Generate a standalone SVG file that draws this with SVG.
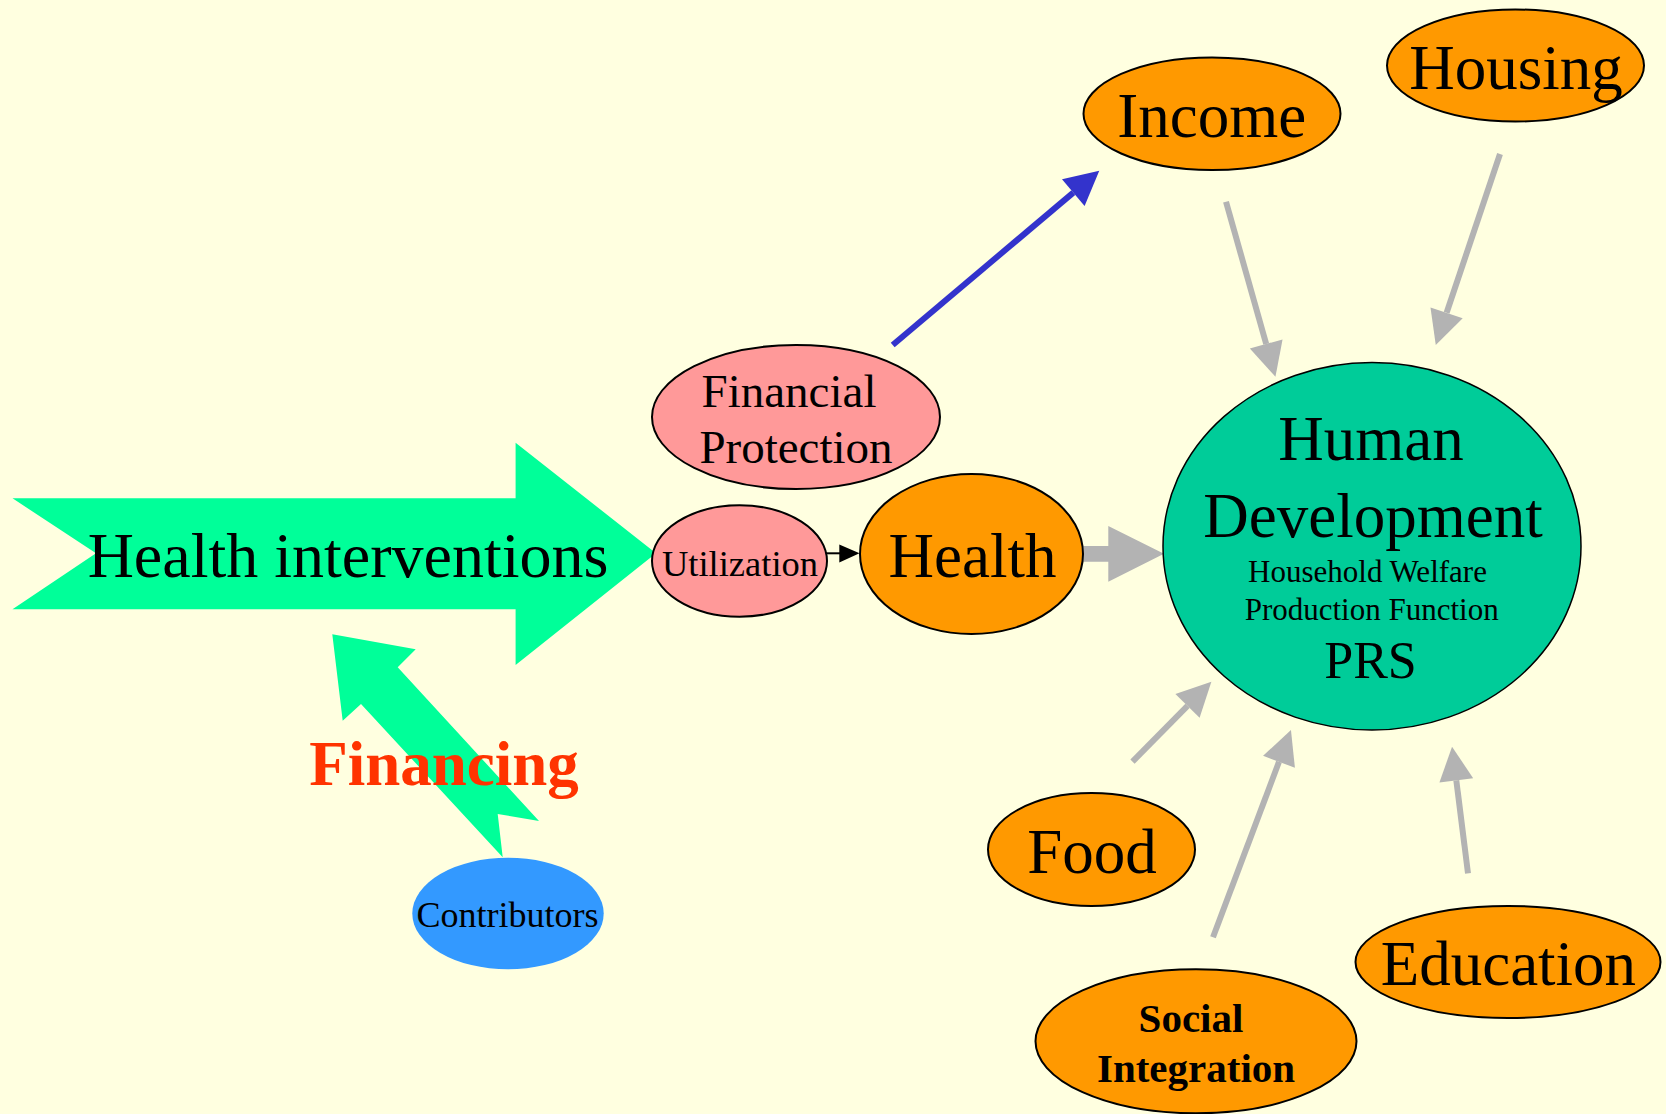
<svg xmlns="http://www.w3.org/2000/svg" width="1666" height="1114" viewBox="0 0 1666 1114">
<style>
  text { font-family: "Liberation Serif", "Times New Roman", serif; fill: #000; text-anchor: middle; }
  .node { stroke: #000; stroke-width: 2; }
  .orange { fill: #FF9900; }
  .pink { fill: #FF9999; }
  .gray { stroke: #B3B3B3; stroke-width: 6; fill: none; }
  .blue { stroke: #3333CC; stroke-width: 6; fill: none; }
  .big { font-size: 63px; }
</style>
<defs>
  <marker id="headGray" markerUnits="userSpaceOnUse" markerWidth="36" markerHeight="36" refX="0" refY="17" orient="auto" overflow="visible">
    <path d="M0,0 L34,17 L0,34 z" fill="#B3B3B3"/>
  </marker>
  <marker id="headBlue" markerUnits="userSpaceOnUse" markerWidth="36" markerHeight="36" refX="0" refY="17.5" orient="auto" overflow="visible">
    <path d="M0,0 L34,17.5 L0,35 z" fill="#3333CC"/>
  </marker>
</defs>
<rect x="0" y="0" width="1666" height="1114" fill="#FFFFE0"/>

<g id="connectors">
  <!-- Contributors -> Health interventions (Financing) -->
  <polygon points="332.3,634.3 415.7,649.3 397.7,667.3 539,821 497.7,814 502.7,857.3 361,704 342.7,720.7" fill="#00FF99"/>
  <text x="444" y="785" font-size="63" font-weight="bold" style="fill:#FF3300">Financing</text>
  <!-- Financial Protection -> Income -->
  <line class="blue" x1="892.7" y1="345" x2="1073.3" y2="192.6" marker-end="url(#headBlue)"/>
  <!-- Utilization -> Health -->
  <line x1="826" y1="553.3" x2="840" y2="553.3" stroke="#000" stroke-width="2"/>
  <polygon points="839.3,544.5 859.5,553.3 839.3,562.5" fill="#000"/>
  <!-- Health -> Human Development -->
  <polygon points="1083.3,546 1108.3,546 1108.3,526 1164,553.8 1108.3,581.7 1108.3,561.7 1083.3,561.7" fill="#B3B3B3"/>
  <!-- Income -> HD -->
  <line class="gray" x1="1226" y1="201.7" x2="1266.2" y2="344" marker-end="url(#headGray)"/>
  <!-- Housing -> HD -->
  <line class="gray" x1="1500" y1="154" x2="1446.6" y2="312.8" marker-end="url(#headGray)"/>
  <!-- Food -> HD -->
  <line class="gray" x1="1132.5" y1="761.7" x2="1187.5" y2="705.9" marker-end="url(#headGray)"/>
  <!-- Social Integration -> HD -->
  <line class="gray" x1="1213" y1="937.3" x2="1279" y2="761.8" marker-end="url(#headGray)"/>
  <!-- Education -> HD -->
  <line class="gray" x1="1468" y1="873.3" x2="1456.3" y2="780.4" marker-end="url(#headGray)"/>
</g>

<g id="health_interventions">
  <polygon points="12.5,498.3 515.6,498.3 515.6,442.7 656,553.3 515.6,665 515.6,609.3 12.5,609.3 96,553.3" fill="#00FF99"/>
  <text x="348" y="576.7" font-size="64">Health interventions</text>
</g>

<g id="contributors">
  <ellipse cx="508" cy="913.5" rx="95.7" ry="55.8" fill="#3399FF"/>
  <text x="507.5" y="927" font-size="36">Contributors</text>
</g>

<g id="financial_protection">
  <ellipse class="node pink" cx="796" cy="417" rx="144" ry="72"/>
  <text x="789" y="406.7" font-size="47">Financial</text>
  <text x="796" y="463" font-size="47">Protection</text>
</g>

<g id="utilization">
  <ellipse class="node pink" cx="739.5" cy="561" rx="87.5" ry="55.7"/>
  <text x="740" y="576" font-size="36.5">Utilization</text>
</g>

<g id="health">
  <ellipse class="node orange" cx="971.5" cy="554" rx="111.5" ry="80"/>
  <text class="big" x="972.5" y="576.7">Health</text>
</g>

<g id="human_development">
  <ellipse cx="1372" cy="546.3" rx="209" ry="183.7" fill="#00CC99" stroke="#000" stroke-width="1.5"/>
  <text x="1371" y="460" font-size="63">Human</text>
  <text x="1373" y="536.7" font-size="63">Development</text>
  <text x="1367.5" y="581.7" font-size="31">Household Welfare</text>
  <text x="1371.7" y="620" font-size="31">Production Function</text>
  <text x="1370.5" y="678" font-size="52">PRS</text>
</g>

<g id="income">
  <ellipse class="node orange" cx="1212" cy="113.7" rx="128.5" ry="56.3"/>
  <text class="big" x="1211.7" y="136.7">Income</text>
</g>

<g id="housing">
  <ellipse class="node orange" cx="1515.5" cy="65.5" rx="128.5" ry="56"/>
  <text class="big" x="1516" y="89.3">Housing</text>
</g>

<g id="food">
  <ellipse class="node orange" cx="1091.5" cy="849.5" rx="103.5" ry="56.5"/>
  <text class="big" x="1092" y="872.7">Food</text>
</g>

<g id="education">
  <ellipse class="node orange" cx="1508" cy="962" rx="152.5" ry="56"/>
  <text class="big" x="1508.4" y="985">Education</text>
</g>

<g id="social_integration">
  <ellipse class="node orange" cx="1196" cy="1041.3" rx="160.5" ry="72"/>
  <text x="1191" y="1031.7" font-size="41" font-weight="bold">Social</text>
  <text x="1196" y="1081.7" font-size="41" font-weight="bold">Integration</text>
</g>
</svg>
